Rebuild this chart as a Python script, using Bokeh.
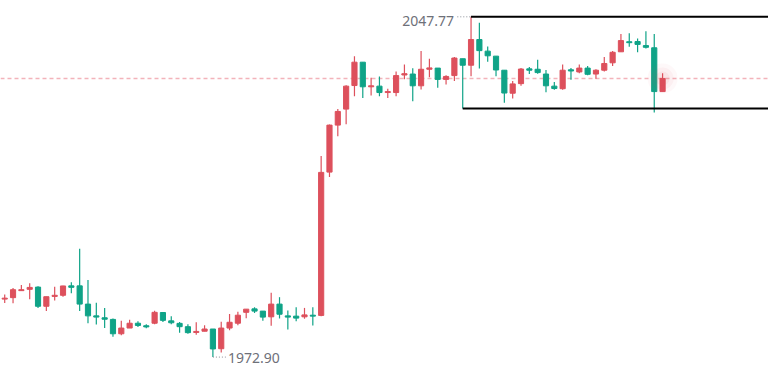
from bokeh.plotting import figure
from bokeh.models import Range1d, Span
from bokeh.embed import file_html
from bokeh.resources import INLINE
from bokeh.core.properties import value

opens = [1985.66, 1985.98, 1987.52, 1987.81, 1988.30, 1984.08, 1986.25, 1986.50, 1988.57, 1988.57,
         1984.56, 1981.97, 1981.55, 1981.19, 1978.03, 1979.29, 1980.35, 1979.80, 1980.35, 1982.71,
         1980.87, 1980.32, 1979.59, 1978.32, 1978.59, 1979.08, 1974.74, 1979.29, 1980.35, 1982.75,
         1983.51, 1983.02, 1981.76, 1984.56, 1981.97, 1981.91, 1981.76, 1982.12, 1982.07, 2013.60,
         2023.94, 2027.46, 2032.65, 2037.79, 2032.37, 2032.52, 2031.11, 2031.11, 2034.97, 2035.18,
         2032.59, 2036.23, 2036.49, 2034.00, 2034.84, 2038.55, 2037.12, 2042.77, 2040.22, 2039.12,
         2036.02, 2030.96, 2033.07, 2036.32, 2036.23, 2035.18, 2032.52, 2031.95, 2036.11, 2035.64,
         2036.49, 2035.18, 2036.02, 2037.65, 2040.07, 2042.29, 2042.33, 2041.44, 2040.96, 2031.32]

closes = [1985.87, 1987.73, 1987.73, 1988.23, 1984.08, 1986.19, 1986.50, 1988.55, 1988.25, 1984.56,
          1981.97, 1981.70, 1981.23, 1978.03, 1979.29, 1980.35, 1979.86, 1979.54, 1982.75, 1980.98,
          1980.45, 1979.59, 1978.28, 1978.55, 1979.08, 1974.69, 1979.29, 1980.56, 1982.12, 1983.45,
          1983.02, 1981.70, 1984.56, 1982.33, 1981.70, 1981.48, 1982.18, 1981.91, 2013.54, 2023.94,
          2026.95, 2032.52, 2037.79, 2032.37, 2032.59, 2031.11, 2031.32, 2034.84, 2035.26, 2032.59,
          2036.23, 2036.53, 2034.00, 2034.65, 2038.70, 2037.12, 2042.77, 2040.33, 2039.19, 2036.07,
          2031.00, 2033.01, 2036.28, 2036.02, 2035.50, 2032.59, 2031.99, 2036.02, 2035.85, 2036.49,
          2035.12, 2036.02, 2037.50, 2039.97, 2042.54, 2042.08, 2041.70, 2041.06, 2031.32, 2034.21]

highs = [1986.67, 1988.09, 1988.78, 1989.14, 1988.51, 1986.19, 1988.36, 1988.61, 1989.39, 1996.73,
         1989.84, 1984.86, 1983.72, 1981.40, 1980.91, 1981.13, 1980.77, 1980.13, 1983.09, 1982.75,
         1981.91, 1980.64, 1980.13, 1980.56, 1979.92, 1979.08, 1980.70, 1982.39, 1982.86, 1983.45,
         1983.87, 1983.02, 1987.03, 1986.08, 1983.17, 1983.87, 1983.72, 1983.87, 2017.13, 2024.09,
         2027.46, 2032.73, 2039.12, 2037.79, 2034.34, 2034.63, 2031.95, 2035.75, 2037.29, 2036.44,
         2040.24, 2038.55, 2036.49, 2034.91, 2038.91, 2038.55, 2047.77, 2046.44, 2041.23, 2039.12,
         2036.02, 2033.64, 2036.49, 2036.74, 2038.34, 2036.07, 2033.43, 2037.29, 2036.53, 2037.29,
         2036.95, 2036.23, 2038.91, 2040.24, 2043.97, 2044.18, 2043.02, 2044.61, 2043.97, 2035.33]

lows = [1984.82, 1984.77, 1987.48, 1985.62, 1983.72, 1983.02, 1985.34, 1986.19, 1986.93, 1983.02,
        1980.35, 1980.07, 1979.29, 1977.39, 1977.69, 1979.29, 1979.50, 1979.23, 1980.13, 1980.64,
        1980.13, 1978.24, 1978.03, 1977.81, 1978.59, 1972.90, 1973.89, 1978.81, 1979.90, 1981.44,
        1982.60, 1980.91, 1979.80, 1981.40, 1978.95, 1980.81, 1981.34, 1979.86, 1981.86, 2012.55,
        2021.47, 2024.15, 2030.27, 2029.91, 2030.48, 2030.27, 2029.91, 2030.27, 2034.06, 2029.21,
        2031.80, 2034.48, 2032.16, 2032.86, 2033.64, 2027.59, 2034.69, 2036.38, 2037.86, 2034.69,
        2028.85, 2029.78, 2032.59, 2035.18, 2035.22, 2031.17, 2031.74, 2031.74, 2033.91, 2035.33,
        2034.91, 2034.12, 2035.75, 2036.95, 2040.07, 2041.17, 2039.97, 2040.81, 2026.74, 2031.32]

box_start = 55  # candle where the marked range begins

RED = "#dd505c"
GREEN = "#0fa387"
LABEL = "#6e7079"

n = len(opens)
xs = list(range(n))
colors = [RED if c >= o else GREEN for o, c in zip(opens, closes)]
tops = [max(o, c) for o, c in zip(opens, closes)]
bottoms = [min(o, c) for o, c in zip(opens, closes)]

x_start, x_end = -0.506, 91.72
p = figure(width=768, height=370, x_range=Range1d(x_start, x_end),
           y_range=Range1d(1969.95, 2051.36), output_backend="svg",
           toolbar_location=None, min_border=0,
           x_axis_location=None, y_axis_location=None)
p.grid.visible = False
p.outline_line_color = None
p.background_fill_color = "white"
p.border_fill_color = "white"

# last price line
p.add_layout(Span(location=closes[-1], dimension="width", line_color="#f3b3ba",
                  line_dash="4 3", line_width=1.5, level="underlay"))

# candles
p.segment(x0=xs, y0=lows, x1=xs, y1=highs, line_color=colors, line_width=1.2)
p.vbar(x=xs, width=0.62, top=tops, bottom=bottoms, fill_color=colors,
       line_color=colors, line_width=1)

# glow on last candle
for s, a in [(30, 0.04), (22, 0.05), (14, 0.07)]:
    p.scatter(x=[n - 1], y=[closes[-1]], size=s, fill_color=RED, fill_alpha=a,
              line_color=None)

# marked range lines
imax = highs.index(max(highs))
imin = lows.index(min(lows))
p.segment(x0=[imax], y0=[highs[imax]], x1=[x_end], y1=[highs[imax]],
          line_color="black", line_width=2)
p.segment(x0=[box_start], y0=[lows[box_start]], x1=[x_end], y1=[lows[box_start]],
          line_color="black", line_width=2)

# max / min labels
p.segment(x0=[imax - 1.65], y0=[highs[imax]], x1=[imax], y1=[highs[imax]],
          line_color="#8a8d96", line_width=1, line_dash="1 2")
p.text(x=[imax], y=[highs[imax]], text=[f"{highs[imax]:.2f}"], text_align="right",
       text_baseline="middle", x_offset=-17, y_offset=4,
       text_font=value("Noto Sans"), text_font_size="14px", text_color=LABEL)
p.segment(x0=[imin], y0=[lows[imin]], x1=[imin + 1.55], y1=[lows[imin]],
          line_color="#8a8d96", line_width=1, line_dash="1 2")
p.text(x=[imin], y=[lows[imin]], text=[f"{lows[imin]:.2f}"], text_align="left",
       text_baseline="middle", x_offset=15, y_offset=1,
       text_font=value("Noto Sans"), text_font_size="14px", text_color=LABEL)

open("out.html", "w").write(file_html(p, INLINE))
